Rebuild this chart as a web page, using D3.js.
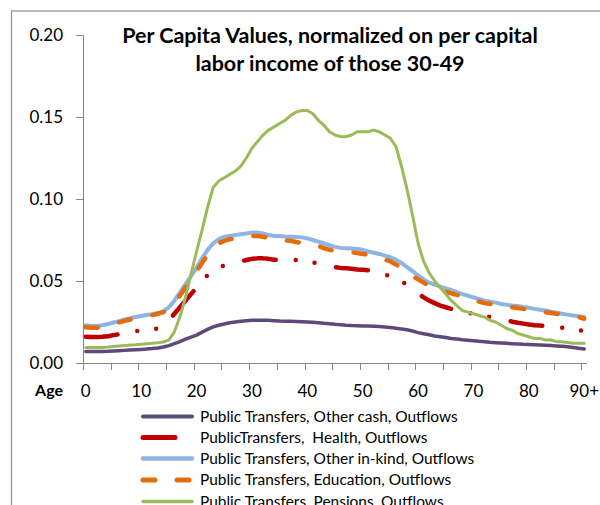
<!DOCTYPE html>
<html><head><meta charset="utf-8">
<script src="https://cdn.jsdelivr.net/npm/d3@7"></script>
<style>body{margin:0;background:#fff}svg{display:block}text{font-family:Lato,"Liberation Sans",sans-serif}</style>
</head><body>
<svg id="c" width="600" height="505"></svg>
<script>
const titleLines = ["Per Capita Values, normalized on per capital", "labor income of those 30-49"];
const ages = d3.range(0, 91);
const xTickLabels = ["0","10","20","30","40","50","60","70","80","90+"];
const xLabelAges = [0,10,20,30,40,50,60,70,80,90];
const yTicks = [0, 0.05, 0.10, 0.15, 0.20];
const seriesNames = ["Public Transfers, Other cash, Outflows","PublicTransfers,  Health, Outflows","Public Transfers, Other in-kind, Outflows","Public Transfers, Education, Outflows","Public Transfers, Pensions, Outflows"];

const otherCash = [0.0070,0.0070,0.0070,0.0070,0.0071,0.0073,0.0075,0.0077,0.0079,0.0081,
0.0083,0.0085,0.0088,0.0092,0.0098,0.0106,0.0118,0.0130,0.0145,0.0158,
0.0170,0.0188,0.0205,0.0220,0.0230,0.0238,0.0245,0.0250,0.0255,0.0258,
0.0260,0.0260,0.0260,0.0260,0.0258,0.0256,0.0255,0.0254,0.0253,0.0252,
0.0250,0.0248,0.0245,0.0242,0.0240,0.0236,0.0233,0.0230,0.0228,0.0227,
0.0226,0.0225,0.0224,0.0222,0.0220,0.0216,0.0212,0.0208,0.0203,0.0195,
0.0185,0.0178,0.0172,0.0165,0.0160,0.0155,0.0150,0.0146,0.0142,0.0139,
0.0136,0.0132,0.0129,0.0126,0.0124,0.0122,0.0120,0.0118,0.0116,0.0114,
0.0113,0.0112,0.0110,0.0108,0.0106,0.0104,0.0102,0.0099,0.0095,0.0090,0.0086];

const health = [0.0160,0.0158,0.0158,0.0160,0.0163,0.0170,0.0175,0.0182,0.0188,0.0194,
0.0198,0.0202,0.0206,0.0210,0.0225,0.0260,0.0300,0.0340,0.0380,0.0420,
0.0460,0.0500,0.0535,0.0560,0.0580,0.0595,0.0605,0.0615,0.0620,0.0628,
0.0635,0.0638,0.0638,0.0635,0.0630,0.0630,0.0630,0.0630,0.0628,0.0625,
0.0620,0.0615,0.0605,0.0600,0.0590,0.0585,0.0580,0.0578,0.0575,0.0570,
0.0568,0.0565,0.0560,0.0550,0.0540,0.0530,0.0520,0.0500,0.0475,0.0450,
0.0425,0.0400,0.0380,0.0365,0.0350,0.0340,0.0330,0.0320,0.0310,0.0305,
0.0300,0.0295,0.0290,0.0280,0.0270,0.0265,0.0260,0.0252,0.0245,0.0240,
0.0235,0.0230,0.0228,0.0225,0.0220,0.0218,0.0215,0.0210,0.0205,0.0200,0.0195];

const otherInKind = [0.0230,0.0225,0.0225,0.0230,0.0238,0.0247,0.0255,0.0265,0.0273,0.0280,
0.0287,0.0293,0.0298,0.0305,0.0315,0.0340,0.0380,0.0430,0.0480,0.0530,
0.0580,0.0640,0.0690,0.0730,0.0755,0.0770,0.0775,0.0780,0.0785,0.0790,
0.0795,0.0795,0.0790,0.0780,0.0775,0.0775,0.0772,0.0770,0.0768,0.0766,
0.0760,0.0750,0.0740,0.0730,0.0718,0.0708,0.0702,0.0700,0.0698,0.0695,
0.0690,0.0680,0.0672,0.0665,0.0655,0.0645,0.0630,0.0610,0.0585,0.0560,
0.0535,0.0510,0.0490,0.0478,0.0465,0.0455,0.0445,0.0432,0.0420,0.0410,
0.0400,0.0390,0.0380,0.0374,0.0368,0.0360,0.0355,0.0350,0.0348,0.0342,
0.0337,0.0330,0.0325,0.0320,0.0313,0.0307,0.0300,0.0295,0.0290,0.0285,0.0280];

const education = [0.0218,0.0215,0.0215,0.0220,0.0230,0.0240,0.0248,0.0257,0.0265,0.0272,
0.0280,0.0286,0.0292,0.0300,0.0310,0.0335,0.0370,0.0410,0.0460,0.0510,
0.0560,0.0610,0.0660,0.0700,0.0730,0.0745,0.0755,0.0760,0.0765,0.0770,
0.0775,0.0775,0.0770,0.0762,0.0755,0.0750,0.0748,0.0745,0.0738,0.0730,
0.0725,0.0720,0.0715,0.0700,0.0690,0.0685,0.0680,0.0678,0.0675,0.0670,
0.0665,0.0660,0.0650,0.0640,0.0630,0.0620,0.0600,0.0580,0.0555,0.0530,
0.0510,0.0490,0.0470,0.0455,0.0445,0.0435,0.0425,0.0415,0.0405,0.0395,
0.0385,0.0375,0.0365,0.0360,0.0355,0.0350,0.0345,0.0340,0.0335,0.0330,
0.0325,0.0320,0.0315,0.0310,0.0305,0.0300,0.0295,0.0290,0.0285,0.0280,0.0270];

const pensions = [0.0095,0.0095,0.0095,0.0095,0.0097,0.0100,0.0103,0.0106,0.0110,0.0112,
0.0115,0.0118,0.0120,0.0123,0.0128,0.0140,0.0190,0.0280,0.0400,0.0540,
0.0680,0.0810,0.0950,0.1070,0.1110,0.1130,0.1150,0.1170,0.1200,0.1250,
0.1310,0.1350,0.1390,0.1420,0.1440,0.1460,0.1480,0.1510,0.1530,0.1540,
0.1540,0.1520,0.1480,0.1450,0.1410,0.1390,0.1380,0.1380,0.1390,0.1410,
0.1410,0.1410,0.1420,0.1410,0.1390,0.1370,0.1320,0.1200,0.1060,0.0900,
0.0730,0.0620,0.0550,0.0500,0.0460,0.0420,0.0380,0.0350,0.0320,0.0310,
0.0300,0.0290,0.0280,0.0260,0.0250,0.0230,0.0210,0.0200,0.0180,0.0170,
0.0160,0.0150,0.0150,0.0140,0.0140,0.0130,0.0130,0.0125,0.0120,0.0120,0.0120];

const seriesValues = [otherCash, health, otherInKind, education, pensions];
const colors = ["#5F497A","#C00000","#8EB4E3","#E46C0A","#9BBB59"];
const widths = [3.5,4.5,4,4.5,3];
const dashes = [null,"32,20,0,19,0,22",null,"12,22",null];

const svg = d3.select("#c");
// outer frame
svg.append("rect").attr("x",11.5).attr("y",11).attr("width",620).attr("height",520)
  .attr("fill","none").attr("stroke","#8c8c8c").attr("stroke-width",1.2);

const x = d3.scaleBand().domain(ages).range([83, 587]).paddingInner(0).paddingOuter(0);
const y = d3.scaleLinear().domain([0, 0.2]).range([363, 35]);
const cx = a => x(a) + x.bandwidth()/2;

// y axis
const yAxis = d3.axisLeft(y).tickValues(yTicks).tickFormat(d3.format(".2f")).tickSize(7).tickPadding(13);
const gy = svg.append("g").attr("transform","translate(83,0)").call(yAxis);
gy.select(".domain").attr("stroke","#868686").attr("stroke-width",1);
gy.selectAll(".tick line").attr("stroke","#868686");
gy.selectAll(".tick text").attr("font-size",17).attr("fill","#000").attr("font-family","Lato");

// x axis
svg.append("line").attr("x1",83).attr("x2",587).attr("y1",363.5).attr("y2",363.5).attr("stroke","#868686");
svg.append("g").selectAll("line").data(ages.filter(a => a % 5 === 0)).join("line")
  .attr("x1", a => Math.round(x(a))+0.5).attr("x2", a => Math.round(x(a))+0.5)
  .attr("y1",363).attr("y2",370).attr("stroke","#868686");
svg.append("g").selectAll("text").data(xLabelAges).join("text")
  .attr("x", a => cx(a)).attr("y", 391).attr("dy","0.35em").attr("text-anchor","middle")
  .attr("font-size",17).text((a,i) => xTickLabels[i]);
svg.append("text").attr("x",63).attr("y",390).attr("dy","0.35em").attr("text-anchor","end")
  .attr("font-size",16).attr("font-weight","bold").text("Age");

// lines
const line = d3.line().x((d,i) => cx(ages[i])).y(d => y(d));
seriesValues.forEach((vals, k) => {
  const p = svg.append("path").datum(vals).attr("d", line).attr("fill","none")
    .attr("stroke", colors[k]).attr("stroke-width", widths[k])
    .attr("stroke-linecap","round").attr("stroke-linejoin","round");
  if (dashes[k]) p.attr("stroke-dasharray", dashes[k]);
});

// title
const title = svg.append("g");
const t1 = title.append("text").attr("x",330).attr("y",43).attr("text-anchor","middle")
  .attr("font-size",18).attr("font-weight","bold").text(titleLines[0]);
const w1 = t1.node().getComputedTextLength();
const tfs = 18 * 416 / w1;
t1.attr("font-size", tfs);
title.append("text").attr("x",330).attr("y",71).attr("text-anchor","middle")
  .attr("font-size",tfs).attr("font-weight","bold").text(titleLines[1]);

// legend
const legRows = [416.5, 437.5, 458.5, 480, 501.5];
const lg = svg.append("g");
seriesNames.forEach((name, k) => {
  const l = lg.append("line").attr("x1",143).attr("x2",192).attr("y1",legRows[k]).attr("y2",legRows[k])
    .attr("stroke",colors[k]).attr("stroke-width",widths[k]+0.5).attr("stroke-linecap","round");
  if (dashes[k]) l.attr("stroke-dasharray", dashes[k]);
});
const lt = lg.selectAll("text.leg").data(seriesNames).join("text").attr("class","leg")
  .attr("x",200).attr("y",(d,i) => legRows[i]).attr("dy","0.35em")
  .attr("font-size",15).style("white-space","pre").text(d => d);
const lw = lt.nodes()[0].getComputedTextLength();
lt.attr("font-size", 15 * 258 / lw);
</script>
</body></html>
